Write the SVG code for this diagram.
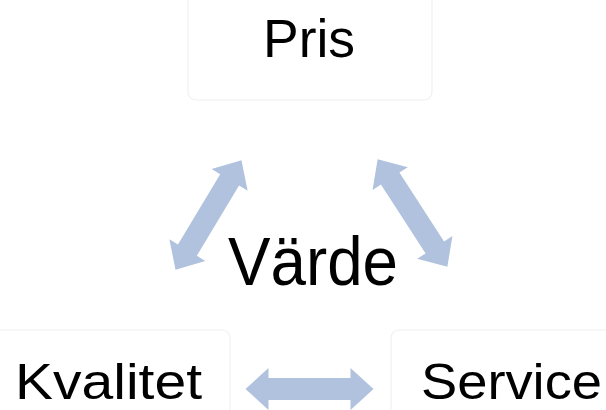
<svg xmlns="http://www.w3.org/2000/svg" width="606" height="410" viewBox="0 0 606 410">
<defs>
<style>
.box{fill:#ffffff;stroke:#f0f0f0;stroke-width:1.2}
.lbl{font-family:"Liberation Sans",Arial,sans-serif;fill:#000000}
.arr{fill:#b0c2dd}
</style>
<path id="dbl" d="M -64,0 L -41,-21 L -41,-11 L 41,-11 L 41,-21 L 64,0 L 41,21 L 41,11 L -41,11 L -41,21 Z"/>
</defs>
<rect width="606" height="410" fill="#ffffff"/>
<g id="connectors">
<use href="#dbl" class="arr" transform="translate(208.5,215) rotate(-59)"/>
<use href="#dbl" class="arr" transform="translate(412.5,213) rotate(57)"/>
<use href="#dbl" class="arr" transform="translate(309.5,389)"/>
</g>
<g id="node-pris">
<rect class="box" x="188" y="-12" width="244" height="112" rx="8"/>
<text class="lbl" x="263" y="57" font-size="54" textLength="92" lengthAdjust="spacingAndGlyphs">Pris</text>
</g>
<g id="node-kvalitet">
<rect class="box" x="-14" y="330" width="244" height="112" rx="8"/>
<text class="lbl" x="15" y="399" font-size="50" textLength="187" lengthAdjust="spacingAndGlyphs">Kvalitet</text>
</g>
<g id="node-service">
<rect class="box" x="391" y="330" width="244" height="112" rx="8"/>
<text class="lbl" x="421" y="399" font-size="50" textLength="181" lengthAdjust="spacingAndGlyphs">Service</text>
</g>
<g id="node-varde">
<text class="lbl" x="228" y="285" font-size="69" textLength="170" lengthAdjust="spacingAndGlyphs">Värde</text>
</g>
</svg>
